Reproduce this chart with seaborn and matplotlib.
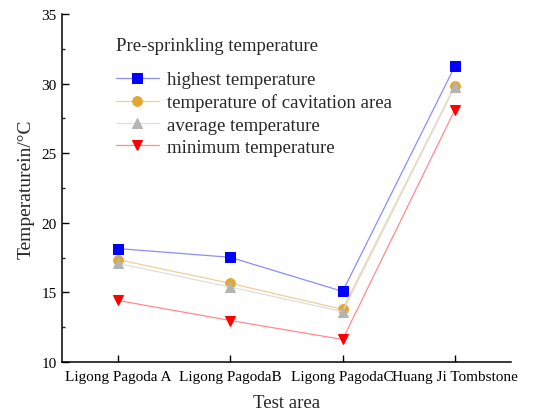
import matplotlib
matplotlib.use("Agg")
import matplotlib.pyplot as plt
import seaborn as sns
import pandas as pd
from matplotlib.ticker import MultipleLocator

categories = ["Ligong Pagoda A", "Ligong PagodaB", "Ligong PagodaC", "Huang Ji Tombstone"]
highest = [18.15, 17.52, 15.07, 31.25]
cavitation = [17.35, 15.65, 13.78, 29.85]
average = [17.08, 15.38, 13.62, 29.78]
minimum = [14.42, 12.98, 11.62, 28.12]

series_names = ["highest temperature", "temperature of cavitation area",
                "average temperature", "minimum temperature"]
series_values = [highest, cavitation, average, minimum]

rows = []
for name, vals in zip(series_names, series_values):
    for i, (c, v) in enumerate(zip(categories, vals)):
        rows.append({"series": name, "x": i, "area": c, "value": v})
df = pd.DataFrame(rows)

sns.set_theme(style="ticks")
plt.rcParams['font.family'] = ['Liberation Serif', 'DejaVu Serif']
plt.rcParams['xtick.direction'] = 'in'
plt.rcParams['ytick.direction'] = 'in'

fig = plt.figure(figsize=(5.34, 4.14), dpi=100)
ax = fig.add_axes([62/534, 51/414, (511-62)/534, (363-15)/414])

styles = {
    "highest temperature": dict(line="#8c8cff", mark="#0000ff", marker="s", ms=6.5),
    "temperature of cavitation area": dict(line="#efcf98", mark="#e3a832", marker="o", ms=7),
    "average temperature": dict(line="#dedede", mark="#b4b4b4", marker="^", ms=7.5),
    "minimum temperature": dict(line="#ff8c8c", mark="#ff0000", marker="v", ms=7.5),
}

for name in series_names:
    st = styles[name]
    sub = df[df["series"] == name]
    sns.lineplot(data=sub, x="x", y="value", ax=ax, color=st["line"], lw=0.9,
                 marker=st["marker"], markersize=st["ms"],
                 markerfacecolor=st["mark"], markeredgecolor=st["mark"],
                 label=name)

ax.set_xlim(-0.5, 3.5)
ax.set_ylim(10, 35)
ax.set_xticks(range(len(categories)))
ax.set_xticklabels(categories)
ax.yaxis.set_major_locator(MultipleLocator(5))
ax.yaxis.set_minor_locator(MultipleLocator(2.5))
ax.tick_params(axis="both", which="major", direction="in", length=5, width=1,
               labelsize=11, colors="black")
ax.tick_params(axis="y", which="minor", direction="in", length=2.5, width=1)
ax.tick_params(axis="x", which="major", direction="in", pad=6)
ax.tick_params(axis="y", which="major", direction="in", pad=4)
for s in ["top", "right"]:
    ax.spines[s].set_visible(False)
for s in ["left", "bottom"]:
    ax.spines[s].set_linewidth(1.1)
    ax.spines[s].set_color("black")

ax.set_xlabel("Test area", fontsize=13.5, labelpad=8)
ax.set_ylabel("Temperaturein/°C", fontsize=14, labelpad=5)

leg = ax.legend(title="Pre-sprinkling temperature", loc="upper left",
                bbox_to_anchor=(0.12, 0.933), frameon=False, fontsize=13.5,
                title_fontsize=13.5, handlelength=2.3, labelspacing=0.28,
                handletextpad=0.4, borderaxespad=0, borderpad=0)
leg._legend_box.align = "left"
leg._legend_box.sep = 12

fig.savefig("out.png", dpi=100)
